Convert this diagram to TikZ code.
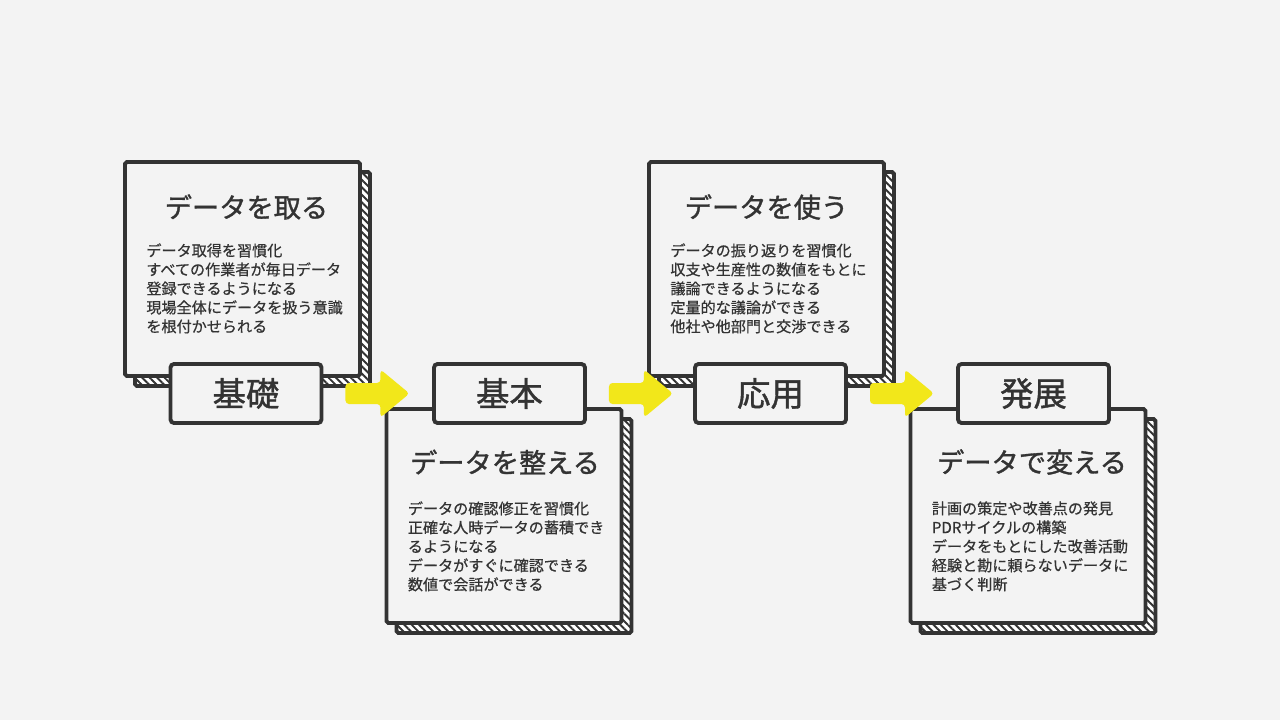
\documentclass[tikz,border=0pt]{standalone}
\usepackage{fontspec}
\setmainfont{Noto Sans CJK JP}
\newfontfamily\jpheavy{Noto Sans CJK JP}[FakeBold=1.2]
\newfontfamily\jpmedium{Noto Sans CJK JP}[FakeBold=0.6]
\usetikzlibrary{calc,positioning,patterns.meta,backgrounds}
\definecolor{PaperGray}{RGB}{243,243,243}
\definecolor{InkGray}{RGB}{51,51,51}
\definecolor{MarkerYellow}{RGB}{242,231,26}
\tikzset{
  stagebox/.style={draw=InkGray,fill=PaperGray,line width=2.2pt,rounded corners=1pt,
    minimum width=4.7cm,minimum height=4.28cm,inner sep=0pt,outer sep=0pt},
  hatchbox/.style={draw=InkGray,line width=2.2pt,rounded corners=1pt,
    preaction={fill=white},pattern={Lines[angle=-45,distance=3pt,line width=1.1pt]},
    pattern color=InkGray},
  stagetag/.style={draw=InkGray,fill=PaperGray,line width=2.2pt,rounded corners=2pt,
    minimum width=3.02cm,minimum height=1.18cm,outer sep=0pt,text=InkGray,
    font=\jpheavy\fontsize{19}{22}\selectfont},
  headline/.style={inner sep=0pt,text=InkGray,font=\jpheavy\fontsize{15.5}{18}\selectfont},
  memo/.style={inner sep=0pt,anchor=north west,align=left,text=InkGray,
    font=\jpmedium\fontsize{8.6}{10.8}\selectfont},
  markerarrow/.style={fill=MarkerYellow,rounded corners=2pt}
}
% yellow block arrow between two stage tags
\newcommand{\stagearrow}[2]{%
  \fill[markerarrow] ($(#1.east)+(24,-10.5)$) -- ++(35,0) -- ++(0,-13.5)
    -- ++(29,24) -- ++(-29,24) -- ++(0,-13.5) -- ++(-35,0) -- cycle;}

\begin{document}
\begin{tikzpicture}[x=0.02cm,y=-0.02cm]
  % main boxes
  \node[stagebox] (b1) at (242.5,269) {};
  \node[stagebox] (b2) at (504,516) {};
  \node[stagebox] (b3) at (766.5,269) {};
  \node[stagebox] (b4) at (1028,516) {};

  % titles and notes
  \node[headline] (t1) at ($(b1.north)+(4,45)$) {データを取る};
  \node[memo] (m1) at ($(b1.north west)+(21,81)$) {データ取得を習慣化\\すべての作業者が毎日データ\\登録できるようになる\\現場全体にデータを扱う意識\\を根付かせられる};
  \node[headline] (t2) at ($(b2.north)+(1,53)$) {データを整える};
  \node[memo] (m2) at ($(b2.north west)+(21,92)$) {データの確認修正を習慣化\\正確な人時データの蓄積でき\\るようになる\\データがすぐに確認できる\\数値で会話ができる};
  \node[headline] (t3) at ($(b3.north)+(0,45)$) {データを使う};
  \node[memo] (m3) at ($(b3.north west)+(21,81)$) {データの振り返りを習慣化\\収支や生産性の数値をもとに\\議論できるようになる\\定量的な議論ができる\\他社や他部門と交渉できる};
  \node[headline] (t4) at ($(b4.north)+(4,53)$) {データで変える};
  \node[memo] (m4) at ($(b4.north west)+(21,92)$) {計画の策定や改善点の発見\\PDRサイクルの構築\\データをもとにした改善活動\\経験と勘に頼らないデータに\\基づく判断};

  % stage tags
  \node[stagetag] (l1) at (246,393.5) {基礎};
  \node[stagetag] (l2) at (509.5,393.5) {基本};
  \node[stagetag] (l3) at (770.5,393.5) {応用};
  \node[stagetag] (l4) at (1033.5,393.5) {発展};

  \stagearrow{l1}{l2}
  \stagearrow{l2}{l3}
  \stagearrow{l3}{l4}

  \begin{pgfonlayer}{background}
    \fill[PaperGray] (0,0) rectangle (1280,720);
    \foreach \b in {b1,b2,b3,b4}
      \draw[hatchbox] ($(\b.north west)+(10,10)$) rectangle ($(\b.south east)+(10,10)$);
  \end{pgfonlayer}
\end{tikzpicture}
\end{document}
